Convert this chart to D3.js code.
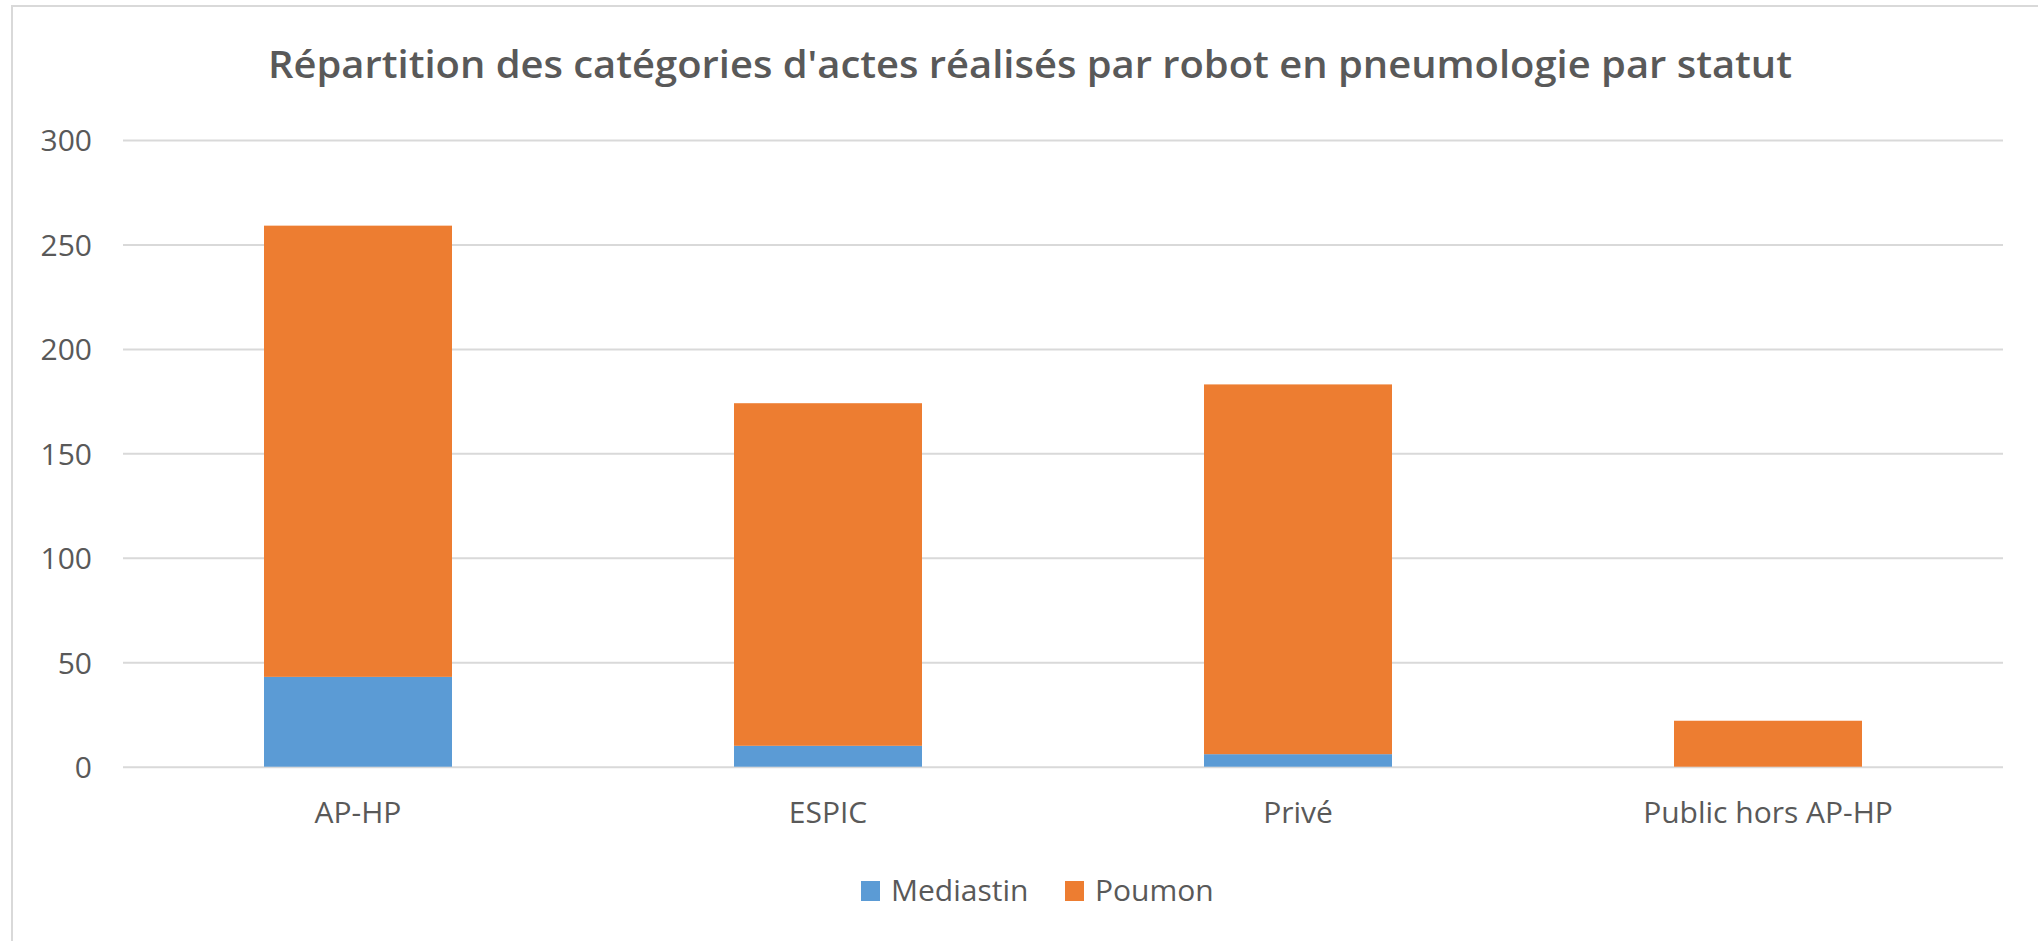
<!DOCTYPE html>
<html>
<head>
<meta charset="utf-8">
<script src="https://cdn.jsdelivr.net/npm/d3@7"></script>
<style>
  html, body { margin: 0; padding: 0; background: #fff; }
  svg { display: block; }
  text { font-family: "Open Sans", "Noto Sans", sans-serif; fill: #595959; }
</style>
</head>
<body>
<svg id="chart" width="2038" height="941"></svg>
<script>
const title = "Répartition des catégories d'actes réalisés par robot en pneumologie par statut";
const categories = ["AP-HP", "ESPIC", "Privé", "Public hors AP-HP"];
const seriesNames = ["Mediastin", "Poumon"];
const mediastin = [43, 10, 6, 0];
const poumon = [216, 164, 177, 22];
const yTicks = [0, 50, 100, 150, 200, 250, 300];
const colors = ["#5B9BD5", "#ED7D31"];

(function () {
const svg = d3.select("#chart");
const W = 2038, H = 941;
const plotLeft = 123, plotRight = 2003, plotTop = 140, plotBottom = 766.7;

svg.append("rect").attr("x", 0).attr("y", 0).attr("width", W).attr("height", H).attr("fill", "#fff");
// chart border (only left/top visible in the crop)
svg.append("rect").attr("x", 12).attr("y", 6).attr("width", W + 20).attr("height", H + 20)
  .attr("fill", "none").attr("stroke", "#d9d9d9").attr("stroke-width", 2);

const x = d3.scaleBand().domain(categories).range([plotLeft, plotRight]).paddingInner(0.6).paddingOuter(0.3);
const y = d3.scaleLinear().domain([0, 300]).range([plotBottom, plotTop]);

// y axis with gridlines
const yAxis = svg.append("g").attr("transform", `translate(${plotLeft},0)`)
  .call(d3.axisLeft(y).tickValues(yTicks).tickSize(-(plotRight - plotLeft)).tickPadding(31).tickFormat(d3.format("d")));
yAxis.select(".domain").remove();
yAxis.selectAll(".tick line").attr("stroke", "#d9d9d9").attr("stroke-width", 2);
yAxis.selectAll(".tick text").attr("font-size", 30).attr("fill", "#595959").attr("font-family", null).attr("dy", "0.36em");

// stacked bars
const data = categories.map((c, i) => ({ cat: c, Mediastin: mediastin[i], Poumon: poumon[i] }));
const stack = d3.stack().keys(seriesNames)(data);
svg.append("g").selectAll("g").data(stack).join("g")
  .attr("fill", (d, i) => colors[i])
  .selectAll("rect").data(d => d).join("rect")
  .attr("x", d => x(d.data.cat))
  .attr("width", x.bandwidth())
  .attr("y", d => y(d[1]))
  .attr("height", d => Math.max(0, y(d[0]) - y(d[1])));

// x axis labels
const xAxis = svg.append("g").attr("transform", `translate(0,${plotBottom})`)
  .call(d3.axisBottom(x).tickSize(0).tickPadding(0));
xAxis.select(".domain").remove();
xAxis.selectAll(".tick text").attr("font-size", 30).attr("fill", "#595959").attr("font-family", null).attr("dy", null).attr("y", 56);

// title
svg.append("text").attr("x", 1030).attr("y", 78).attr("text-anchor", "middle")
  .attr("font-size", 38).attr("font-weight", 600).attr("fill", "#5f5f5f")
  .attr("textLength", 1524).attr("lengthAdjust", "spacingAndGlyphs")
  .text(title);

// legend
const legendX = [861, 1065];
const lg = svg.append("g");
seriesNames.forEach((s, i) => {
  lg.append("rect").attr("x", legendX[i]).attr("y", 881).attr("width", 19).attr("height", 20).attr("fill", colors[i]);
  lg.append("text").attr("x", legendX[i] + 30).attr("y", 901).attr("font-size", 30).attr("fill", "#595959").text(s);
});
})();
</script>
</body>
</html>
